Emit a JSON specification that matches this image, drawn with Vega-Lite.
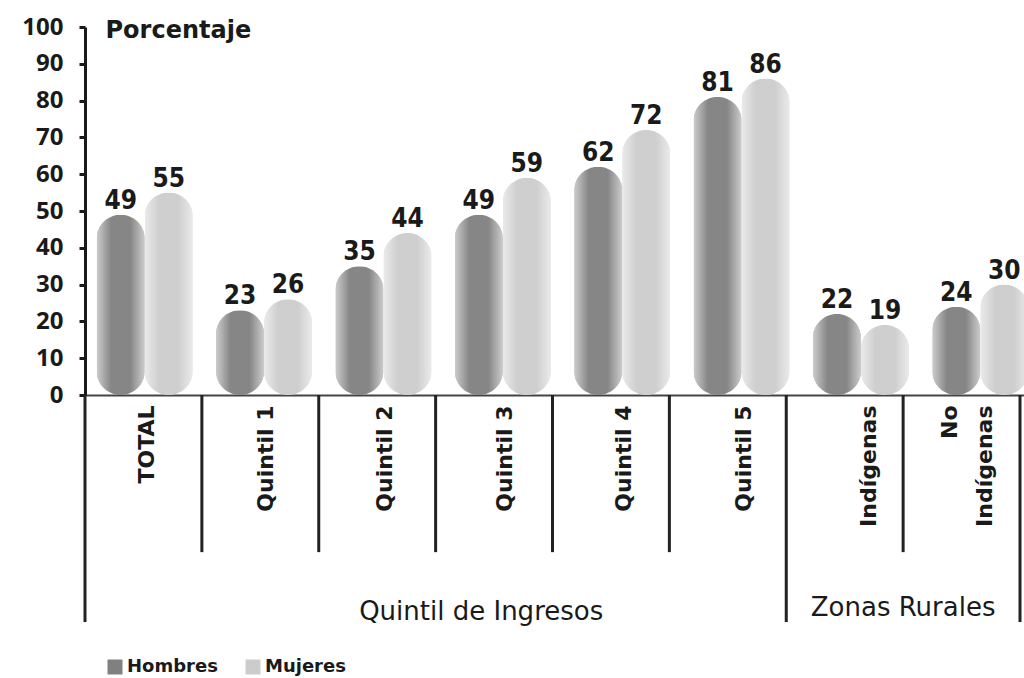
{
  "$schema": "https://vega.github.io/schema/vega-lite/v6.json",
  "width": 935,
  "height": 368,
  "autosize": {"type": "none"},
  "padding": {"left": 85, "top": 27, "right": 4, "bottom": 283},
  "background": "white",
  "config": {"view": {"stroke": null}, "font": "DejaVu Sans"},
  "datasets": {
    "bars": [
      {"grupo": "TOTAL", "sexo": "Hombres", "valor": 49},
      {"grupo": "TOTAL", "sexo": "Mujeres", "valor": 55},
      {"grupo": "Quintil 1", "sexo": "Hombres", "valor": 23},
      {"grupo": "Quintil 1", "sexo": "Mujeres", "valor": 26},
      {"grupo": "Quintil 2", "sexo": "Hombres", "valor": 35},
      {"grupo": "Quintil 2", "sexo": "Mujeres", "valor": 44},
      {"grupo": "Quintil 3", "sexo": "Hombres", "valor": 49},
      {"grupo": "Quintil 3", "sexo": "Mujeres", "valor": 59},
      {"grupo": "Quintil 4", "sexo": "Hombres", "valor": 62},
      {"grupo": "Quintil 4", "sexo": "Mujeres", "valor": 72},
      {"grupo": "Quintil 5", "sexo": "Hombres", "valor": 81},
      {"grupo": "Quintil 5", "sexo": "Mujeres", "valor": 86},
      {"grupo": "Indígenas", "sexo": "Hombres", "valor": 22},
      {"grupo": "Indígenas", "sexo": "Mujeres", "valor": 19},
      {"grupo": "No Indígenas", "sexo": "Hombres", "valor": 24},
      {"grupo": "No Indígenas", "sexo": "Mujeres", "valor": 30}
    ],
    "seps": [
      {"pos": 0, "fin": -61.7},
      {"pos": 1, "fin": -42.7},
      {"pos": 2, "fin": -42.7},
      {"pos": 3, "fin": -42.7},
      {"pos": 4, "fin": -42.7},
      {"pos": 5, "fin": -42.7},
      {"pos": 6, "fin": -61.7},
      {"pos": 7, "fin": -42.7},
      {"pos": 8, "fin": -61.7}
    ],
    "grupos": [
      {"pos": 3.39, "y": -59, "texto": "Quintil de Ingresos"},
      {"pos": 7.0, "y": -58, "texto": "Zonas Rurales"}
    ]
  },
  "layer": [
    {
      "data": {"name": "bars"},
      "encoding": {
        "x": {
          "field": "grupo", "type": "nominal", "sort": null,
          "scale": {"range": [0, 955], "paddingInner": 0, "paddingOuter": 0},
          "axis": {
            "title": null, "labelAngle": -90, "labelAlign": "right", "labelBaseline": "middle",
            "labelPadding": 10, "ticks": false, "domainColor": "#444444", "domainWidth": 2,
            "labelFont": "DejaVu Sans", "labelFontWeight": "bold", "labelFontSize": 22,
            "labelColor": "#1a1a1a", "labelLimit": 0, "labelLineHeight": 35, "labelOverlap": false,
            "labelOffset": {"condition": [
              {"test": "datum.label == 'No Indígenas'", "value": -30},
              {"test": "datum.label == 'Indígenas'", "value": 8}
            ], "value": 2},
            "labelExpr": "datum.label == 'No Indígenas' ? ['No', 'Indígenas'] : datum.label"
          }
        },
        "xOffset": {
          "field": "sexo", "type": "nominal",
          "scale": {"domain": ["Hombres", "Mujeres"], "paddingOuter": 0.243, "paddingInner": 0}
        },
        "y": {
          "field": "valor", "type": "quantitative",
          "scale": {"domain": [0, 100], "nice": false},
          "axis": {
            "title": "Porcentaje", "values": [0, 10, 20, 30, 40, 50, 60, 70, 80, 90, 100],
            "labelOverlap": false, "labelBound": false,
            "grid": false, "domainColor": "#1a1a1a", "domainWidth": 3,
            "tickColor": "#1a1a1a", "tickWidth": 3, "tickSize": 6,
            "labelFont": "Open Sans", "labelFontWeight": "bold", "labelFontSize": 24,
            "labelColor": "#1a1a1a", "labelPadding": 16,
            "titleAngle": 0, "titleAlign": "left", "titleBaseline": "alphabetic",
            "titleX": 20, "titleY": 10, "titleFont": "DejaVu Sans", "titleFontSize": 24,
            "titleFontWeight": "bold", "titleColor": "#1a1a1a"
          }
        }
      },
      "layer": [
        {
          "mark": {"type": "bar", "cornerRadius": 24},
          "encoding": {
            "color": {
              "field": "sexo", "type": "nominal",
              "scale": {"domain": ["Hombres", "Mujeres"], "range": ["#808080", "#cccccc"]},
              "legend": {
                "orient": "none", "legendX": 21, "legendY": 631, "direction": "horizontal",
                "title": null, "symbolType": "square", "symbolSize": 225, "symbolStrokeWidth": 0,
                "labelFont": "DejaVu Sans", "labelFontWeight": "bold", "labelFontSize": 18,
                "labelColor": "#1a1a1a", "columnPadding": 26, "labelOffset": 3, "padding": 0
              }
            }
          }
        },
        {
          "mark": {
            "type": "bar", "cornerRadius": 24,
            "color": {
              "gradient": "linear", "x1": 0, "x2": 1, "y1": 0, "y2": 0,
              "stops": [
                {"offset": 0, "color": "rgba(255,255,255,0.6)"},
                {"offset": 0.3, "color": "rgba(255,255,255,0.05)"},
                {"offset": 0.7, "color": "rgba(255,255,255,0.05)"},
                {"offset": 1, "color": "rgba(255,255,255,0.6)"}
              ]
            }
          },
          "encoding": {}
        },
        {
          "mark": {
            "type": "text", "font": "DejaVu Sans Condensed, Liberation Sans Narrow, Liberation Sans, sans-serif", "fontWeight": "bold",
            "fontSize": 26, "baseline": "alphabetic", "dy": -6, "color": "#1a1a1a"
          },
          "encoding": {"text": {"field": "valor", "type": "quantitative"}}
        }
      ]
    },
    {
      "layer": [
        {
          "data": {"name": "seps"},
          "mark": {"type": "rule", "strokeWidth": 3, "color": "#222222", "clip": false},
          "encoding": {
            "x": {"field": "pos", "type": "quantitative", "scale": {"domain": [0, 8], "nice": false, "zero": false}, "axis": null},
            "y": {"field": "fin", "type": "quantitative", "scale": {"domain": [0, 100], "nice": false}, "axis": null},
            "y2": {"datum": 0}
          }
        },
        {
          "data": {"name": "grupos"},
          "mark": {"type": "text", "font": "DejaVu Sans", "fontSize": 26, "color": "#1a1a1a", "baseline": "middle", "align": "center", "clip": false},
          "encoding": {
            "x": {"field": "pos", "type": "quantitative", "scale": {"domain": [0, 8], "nice": false, "zero": false}, "axis": null},
            "y": {"field": "y", "type": "quantitative", "scale": {"domain": [0, 100], "nice": false}, "axis": null},
            "text": {"field": "texto"}
          }
        }
      ]
    }
  ],
  "resolve": {"scale": {"x": "independent", "y": "independent"}, "axis": {"x": "independent", "y": "independent"}}
}
